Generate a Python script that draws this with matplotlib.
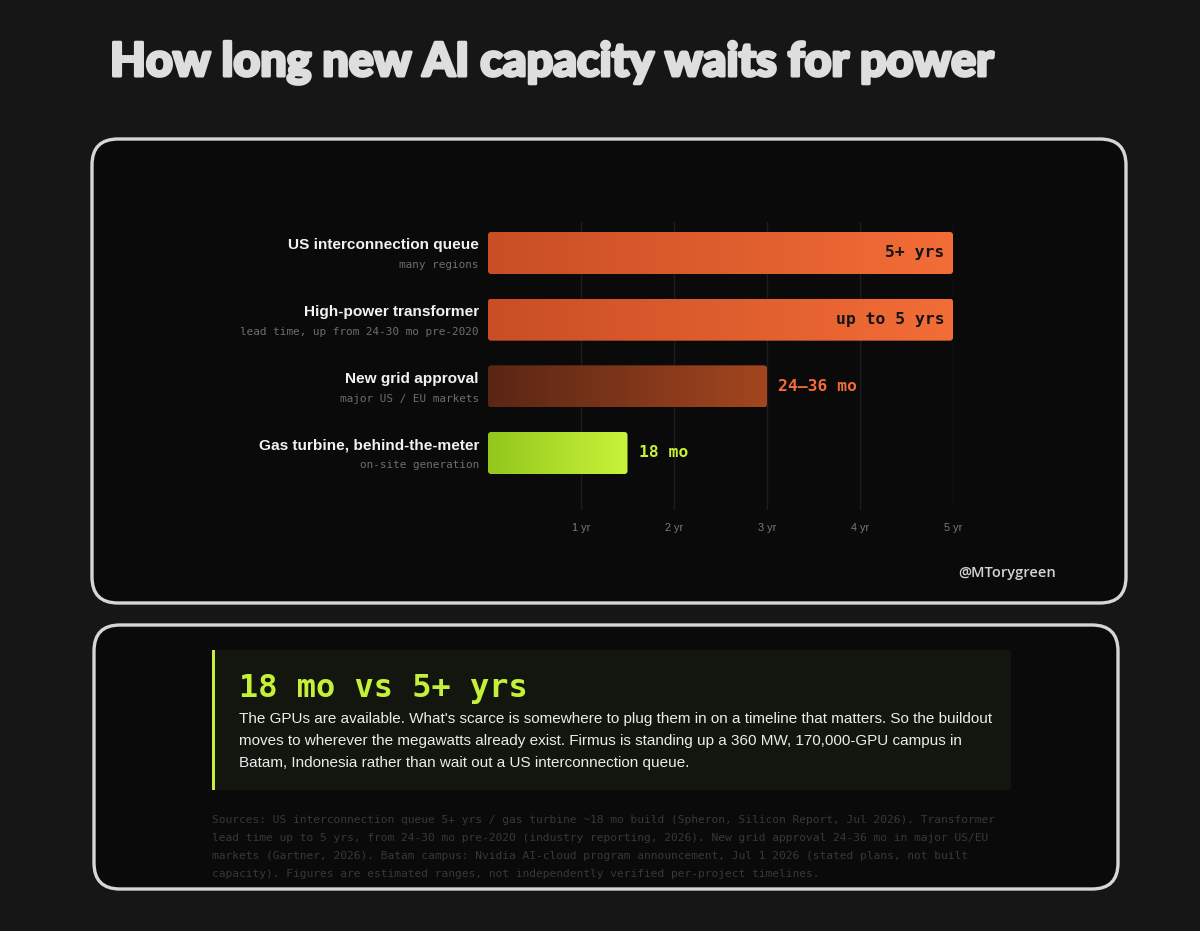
import numpy as np
import matplotlib
matplotlib.use('Agg')
import matplotlib.pyplot as plt
import matplotlib.patheffects as pe
from matplotlib.patches import FancyBboxPatch, Rectangle

#------------------------------------------------------------#
# data                                                       #
#------------------------------------------------------------#

categories = ['US interconnection queue', 'High-power transformer',
              'New grid approval', 'Gas turbine, behind-the-meter']
subtitles = ['many regions', 'lead time, up from 24-30 mo pre-2020',
             'major US / EU markets', 'on-site generation']
months = [60, 60, 36, 18]
value_labels = ['5+ yrs', 'up to 5 yrs', '24\u201336 mo', '18 mo']
tick_months = [12, 24, 36, 48, 60]
tick_labels = ['1 yr', '2 yr', '3 yr', '4 yr', '5 yr']

title = 'How long new AI capacity waits for power'
callout_head = '18 mo vs 5+ yrs'
callout_body = ("The GPUs are available. What's scarce is somewhere to plug them in on a timeline that matters. So the buildout\n"
                "moves to wherever the megawatts already exist. Firmus is standing up a 360 MW, 170,000-GPU campus in\n"
                "Batam, Indonesia rather than wait out a US interconnection queue.")
sources = ("Sources: US interconnection queue 5+ yrs / gas turbine ~18 mo build (Spheron, Silicon Report, Jul 2026). Transformer\n"
           "lead time up to 5 yrs, from 24-30 mo pre-2020 (industry reporting, 2026). New grid approval 24-36 mo in major US/EU\n"
           "markets (Gartner, 2026). Batam campus: Nvidia AI-cloud program announcement, Jul 1 2026 (stated plans, not built\n"
           "capacity). Figures are estimated ranges, not independently verified per-project timelines.")
handle = '@MTorygreen'

# colours
bg = '#161616'
panel = '#0a0a0a'
orange = '#f26b38'
lime = '#c5f03a'
grad = [('#c94e25', '#f36d37'),
        ('#c94e25', '#f36d37'),
        ('#5a2614', '#a3461f'),
        ('#93c71c', '#c8f33a')]

#------------------------------------------------------------#
# canvas                                                     #
#------------------------------------------------------------#

W, H = 1200, 931
fig = plt.figure(figsize=(W / 100, H / 100), dpi=100, facecolor=bg)

ax0 = fig.add_axes([0, 0, 1, 1])
ax0.set_xlim(0, W)
ax0.set_ylim(H, 0)
ax0.axis('off')

# outer cards
for (x0, y0, x1, y1) in [(92, 139, 1126, 603), (94, 625, 1118, 889)]:
    ax0.add_patch(FancyBboxPatch((x0, y0), x1 - x0, y1 - y0,
                                 boxstyle='round,pad=0,rounding_size=26',
                                 fc=panel, ec='#d6d6d6', lw=2.4))

# title (stroke to fake a heavier face)
ax0.text(110, 76, title, fontsize=33.5, fontweight='black', family='Lato',
         color='#dedede', va='baseline', ha='left',
         path_effects=[pe.withStroke(linewidth=2.2, foreground='#dedede')])

# watermark
ax0.text(1056, 573, handle, fontsize=10.5, family='Open Sans',
         fontweight='semibold', color='#d4d4d4', ha='right', va='center')

# callout panel
ax0.add_patch(FancyBboxPatch((212, 650), 799, 140,
                             boxstyle='round,pad=0,rounding_size=4',
                             fc='#12160f', ec='none'))
ax0.add_patch(Rectangle((212, 650), 3, 140, fc=lime, ec='none'))
ax0.text(239, 697, callout_head, fontsize=23, family='DejaVu Sans Mono',
         fontweight='bold', color=lime, va='baseline')
ax0.text(239, 712, callout_body, fontsize=11, family='Liberation Sans',
         color='#ececec', va='top', linespacing=1.74)
ax0.text(212, 815, sources, fontsize=8.1, family='DejaVu Sans Mono',
         color='#383838', va='top', linespacing=1.98)

#------------------------------------------------------------#
# bar chart                                                  #
#------------------------------------------------------------#

ax_l, ax_r, ax_t, ax_b = 488, 953, 222, 510
ax = fig.add_axes([ax_l / W, 1 - ax_b / H, (ax_r - ax_l) / W, (ax_b - ax_t) / H])
ax.set_facecolor('none')
ax.set_xlim(0, 60)
ax.set_ylim(3.855, -0.465)
for s in ax.spines.values():
    s.set_visible(False)

ax.set_xticks(tick_months)
ax.set_xticklabels(tick_labels)
ax.tick_params(axis='x', length=0, pad=9.5, labelsize=7.8, labelcolor='#7a7a7a')
ax.set_yticks([])
for t in ax.get_xticklabels():
    t.set_family('Liberation Sans')
ax.grid(axis='x', color='#1d1d1d', lw=1)
ax.set_axisbelow(True)

bar_h = 0.63
bars = ax.barh(range(len(months)), months, height=bar_h, color='none')

xu = 60 / (ax_r - ax_l)
yu = (3.855 + 0.465) / (ax_b - ax_t)
ramp = np.linspace(0, 1, 256).reshape(1, -1)
for i, b in enumerate(bars):
    x, y = b.get_x(), b.get_y()
    w, h = b.get_width(), b.get_height()
    c0 = np.array(matplotlib.colors.to_rgb(grad[i][0]))
    c1 = np.array(matplotlib.colors.to_rgb(grad[i][1]))
    img = c0[None, None, :] * (1 - ramp[..., None]) + c1[None, None, :] * ramp[..., None]
    clip = FancyBboxPatch((x, y), w, h,
                          boxstyle='round,pad=0,rounding_size=%f' % (3 * xu),
                          mutation_aspect=yu / xu, fc='none', ec='none',
                          transform=ax.transData)
    ax.add_patch(clip)
    im = ax.imshow(img, extent=(x, x + w, y + h, y), aspect='auto',
                   interpolation='bilinear', zorder=2)
    im.set_clip_path(clip)

ax.set_xlim(0, 60)
ax.set_ylim(3.855, -0.465)

# value labels
for i, v in enumerate(months):
    if v >= 60:
        ax.annotate(value_labels[i], xy=(v, i), xytext=(-6, 0),
                    textcoords='offset points', ha='right', va='center',
                    fontsize=11.8, family='DejaVu Sans Mono', fontweight='bold',
                    color='#141414', zorder=3)
    else:
        ax.annotate(value_labels[i], xy=(v, i), xytext=(8, 0),
                    textcoords='offset points', ha='left', va='center',
                    fontsize=11.8, family='DejaVu Sans Mono', fontweight='bold',
                    color=orange if i == 2 else lime, zorder=3)

# category labels
for i, (cat, sub) in enumerate(zip(categories, subtitles)):
    ax.annotate(cat, xy=(0, i), xytext=(-6.5, 5.5), textcoords='offset points',
                ha='right', va='center', fontsize=11.1, family='Liberation Sans',
                fontweight='bold', color='#f2f2f2', annotation_clip=False)
    ax.annotate(sub, xy=(0, i), xytext=(-6.5, -9), textcoords='offset points',
                ha='right', va='center', fontsize=7.9, family='DejaVu Sans Mono',
                color='#6e6e6e', annotation_clip=False)

fig.savefig('out.png', dpi=100, facecolor=bg)
